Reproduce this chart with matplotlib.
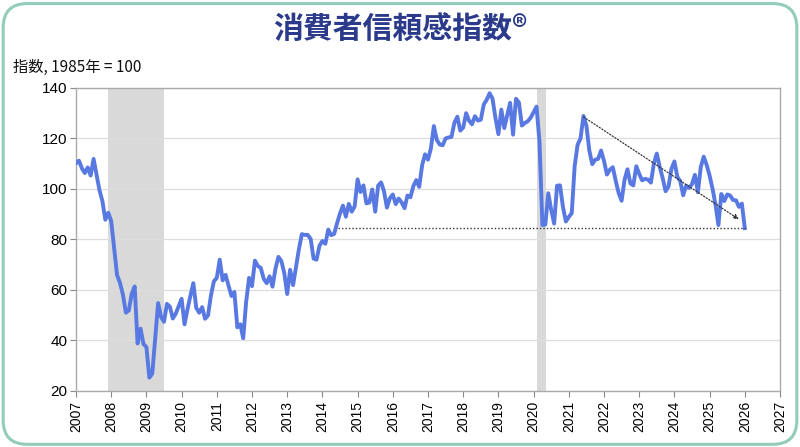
import numpy as np
import matplotlib
matplotlib.use("Agg")
import matplotlib.pyplot as plt
from matplotlib.patches import FancyBboxPatch

# 消費者信頼感指数 (1985年 = 100), 月次 2007年1月〜2026年1月
START_YEAR = 2007
cci_2007 = [110.2, 111.2, 108.2, 106.3, 108.5, 105.3, 111.9, 105.6, 99.5, 95.2, 87.8, 90.6]
cci_2008 = [87.3, 76.4, 65.9, 62.8, 58.1, 51.0, 51.9, 58.5, 61.4, 38.8, 44.7, 38.6]
cci_2009 = [37.4, 25.3, 26.9, 40.8, 54.8, 49.3, 47.4, 54.5, 53.4, 48.7, 50.6, 53.6]
cci_2010 = [56.5, 46.4, 52.3, 57.7, 62.7, 52.9, 51.0, 53.2, 48.6, 49.9, 57.8, 63.4]
cci_2011 = [64.8, 72.0, 63.8, 66.0, 61.7, 57.6, 59.2, 45.2, 46.4, 40.9, 55.2, 64.8]
cci_2012 = [61.5, 71.6, 69.5, 68.7, 64.4, 62.7, 65.4, 61.3, 68.4, 73.1, 71.5, 66.7]
cci_2013 = [58.4, 68.0, 61.9, 69.0, 76.2, 82.1, 81.8, 81.8, 80.2, 72.4, 72.0, 77.5]
cci_2014 = [79.4, 78.3, 83.9, 81.7, 82.2, 86.4, 90.3, 93.4, 89.0, 94.1, 91.0, 93.1]
cci_2015 = [103.8, 98.8, 101.4, 94.3, 94.6, 99.8, 91.0, 101.3, 102.6, 99.1, 92.6, 96.3]
cci_2016 = [97.8, 94.0, 96.2, 94.7, 92.4, 97.4, 96.7, 101.1, 103.5, 100.8, 109.4, 113.7]
cci_2017 = [111.6, 116.1, 124.9, 119.4, 117.6, 117.3, 120.0, 120.4, 120.6, 126.2, 128.6, 123.1]
cci_2018 = [124.3, 130.0, 127.0, 125.6, 128.8, 127.1, 127.4, 133.4, 135.3, 137.9, 135.7, 128.1]
cci_2019 = [121.7, 131.4, 124.1, 129.2, 134.1, 121.5, 135.7, 134.2, 125.1, 126.1, 126.8, 128.2]
cci_2020 = [130.4, 132.6, 118.8, 85.7, 85.9, 98.3, 91.7, 86.3, 101.3, 101.4, 92.9, 87.1]
cci_2021 = [88.9, 90.4, 109.0, 117.5, 120.0, 128.9, 125.1, 115.2, 109.8, 111.6, 111.9, 115.2]
cci_2022 = [111.1, 105.7, 107.6, 108.6, 103.2, 98.4, 95.3, 103.6, 107.8, 102.2, 101.4, 109.0]
cci_2023 = [106.0, 103.4, 104.0, 103.7, 102.5, 110.1, 114.0, 108.7, 104.3, 99.1, 101.0, 108.0]
cci_2024 = [110.9, 104.8, 103.1, 97.5, 101.3, 100.4, 101.9, 105.6, 98.7, 108.7, 112.8, 109.5]
cci_2025 = [105.3, 100.1, 93.9, 85.7, 98.0, 95.2, 97.8, 97.4, 95.6, 95.5, 92.9, 94.2]
cci_2026 = [84.5]

# 景気後退期 (年, 小数)
recessions = [(2007.92, 2009.49), (2020.09, 2020.34)]

# 補助線: 水平 (開始年, 終了年) と 下降トレンド矢印 (開始, 終了)
flat_line_years = (2014.43, 2026.0)
trend_start = (2021.42, 128.5)
trend_end = (2025.83, 88.0)

cci = np.array(cci_2007 + cci_2008 + cci_2009 + cci_2010 + cci_2011 + cci_2012 + cci_2013
               + cci_2014 + cci_2015 + cci_2016 + cci_2017 + cci_2018 + cci_2019 + cci_2020
               + cci_2021 + cci_2022 + cci_2023 + cci_2024 + cci_2025 + cci_2026)
years = START_YEAR + np.arange(len(cci)) / 12.0

plt.rcParams['font.family'] = ['Liberation Sans', 'Noto Sans CJK JP', 'DejaVu Sans']

fig = plt.figure(figsize=(8, 4.47), dpi=100)
fig.patch.set_facecolor('white')

# 角丸の枠
border = FancyBboxPatch((0.004, 0.006), 0.992, 0.986,
                        boxstyle="round,pad=0,rounding_size=0.03",
                        mutation_aspect=800 / 447,
                        transform=fig.transFigure, facecolor='white',
                        edgecolor='#93cdb9', linewidth=2.2, zorder=-10)
fig.patches.append(border)

ax = fig.add_axes([0.095, 0.1253, 0.88, 0.678])
ax.set_facecolor('none')

for start, end in recessions:
    ax.axvspan(start, end, color='#d9d9d9', lw=0, zorder=1)

ax.plot(years, cci, color='#5878e2', lw=2.8, zorder=3, solid_joinstyle='round')

# 補助線
last_val = cci[-1]
ax.plot(flat_line_years, [last_val, last_val], color='#333333', lw=1.0,
        linestyle=(0, (1, 1.5)), zorder=4)
ax.annotate('', xy=trend_end, xytext=trend_start,
            arrowprops=dict(arrowstyle='-|>', color='#333333', lw=0.9,
                            linestyle=(0, (1, 1.5)), mutation_scale=7,
                            shrinkA=0, shrinkB=0),
            zorder=4)

ax.set_xlim(2007, 2027)
ax.set_ylim(20, 140)
ax.set_xticks(range(2007, 2028))
ax.set_xticklabels([str(y) for y in range(2007, 2028)], rotation=90, fontsize=10)
ax.set_yticks(range(20, 141, 20))
ax.tick_params(axis='y', labelsize=11, length=4, color='#888888', pad=2)
ax.tick_params(axis='x', length=4, color='#888888', pad=3)
ax.grid(axis='y', color='#dddddd', lw=0.9, zorder=0)
for s in ax.spines.values():
    s.set_color('#aaaaaa')
    s.set_linewidth(1.0)

fig.text(0.5, 0.932, '消費者信頼感指数®', ha='center', va='center',
         fontsize=21.5, fontweight='bold', color='#2b3a8a',
         family=['Noto Sans CJK JP', 'DejaVu Sans'])
fig.text(0.016, 0.85, '指数, 1985年 = 100', ha='left', va='center',
         fontsize=11, color='#111111', family=['Noto Sans CJK JP', 'DejaVu Sans'])

fig.savefig('out.png', dpi=100, facecolor='white')
